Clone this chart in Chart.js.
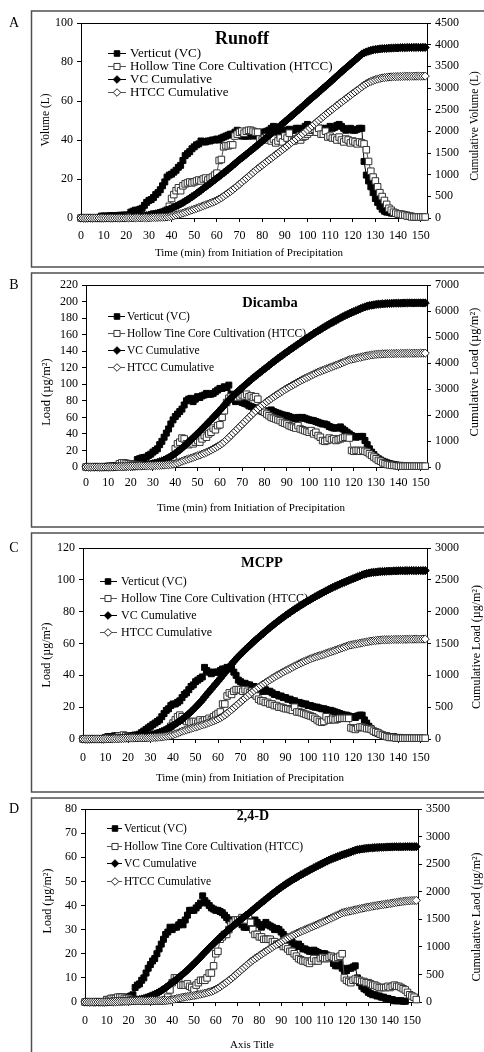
<!DOCTYPE html>
<html>
<head>
<meta charset="utf-8">
<title>Runoff and herbicide loads</title>
<script src="https://cdn.jsdelivr.net/npm/chart.js@4.4.1/dist/chart.umd.min.js"></script>
<style>
html, body { margin:0; padding:0; background:#fff; }
body { width:484px; height:1052px; position:relative; overflow:hidden; }
canvas { position:absolute; left:0; display:block; }
</style>
</head>
<body>
<canvas id="cA" width="484" height="270" style="top:0px"></canvas>
<canvas id="cB" width="484" height="262" style="top:270px"></canvas>
<canvas id="cC" width="484" height="263" style="top:532px"></canvas>
<canvas id="cD" width="484" height="257" style="top:795px"></canvas>
<script>
// ---------------- DATA ----------------
const SERIES_NAMES = ['Verticut (VC)', 'Hollow Tine Core Cultivation (HTCC)', 'VC Cumulative', 'HTCC Cumulative'];
const MINUTES = [0,1,2,3,4,5,6,7,8,9,10,11,12,13,14,15,16,17,18,19,20,21,22,23,24,25,26,27,28,29,30,31,32,33,34,35,36,37,38,39,40,41,42,43,44,45,46,47,48,49,50,51,52,53,54,55,56,57,58,59,60,61,62,63,64,65,66,67,68,69,70,71,72,73,74,75,76,77,78,79,80,81,82,83,84,85,86,87,88,89,90,91,92,93,94,95,96,97,98,99,100,101,102,103,104,105,106,107,108,109,110,111,112,113,114,115,116,117,118,119,120,121,122,123,124,125,126,127,128,129,130,131,132,133,134,135,136,137,138,139,140,141,142,143,144,145,146,147,148,149,150,151,152];
const X_TICKS = [0,10,20,30,40,50,60,70,80,90,100,110,120,130,140,150];

// A: Runoff
const A_TITLE = 'Runoff';
const A_LEFT_TICKS = [0,20,40,60,80,100];
const A_RIGHT_TICKS = [0,500,1000,1500,2000,2500,3000,3500,4000,4500];
const A_VC = [0,0,0,0,0,0,0,0,0,
 1,1,1,1,1.2,1.2,1.3,1.3,1.4,1.4,1.5,1.5,1.5,
 3,3.5,4,4,4.5,5,6.5,8,9,9.5,10.5,12,13,14.5,16.5,18.5,
 21,22,22.5,23.5,24.5,26,27,29.5,32,33,34,35.5,36.5,37.5,38,39.5,
 39,39,39.5,39.5,40,40,40.5,
 40,41,41.5,42,42.5,43,43,44,45,44,
 42,42,42,42,42.5,42,43,43.5,44,44,
 44,44.5,45,46,47,45,44,44,44.5,45,
 45,45.5,45,45,46,46,45.5,46,47,48,
 46,45,44.5,45,45.5,46,46,45.5,46,47,
 46,46.5,47.5,48,47,46,45,45.5,46,45,
 45,45.5,46,46,
 29,22,19,16,13,10,8,6,4.5,3.5,3,3,2.5,2.5,2.5,2,2,2,1.5,1.5,1,1,
 null,null,null,null,null,null];
const A_HTCC = [0,0,0,0,0,0,0,0,0,0,0,0,0,0,0,0,0,0,0,0,
 0.5,0.5,0.5,0.5,0.5,0.5,0.5,0.5,0.5,0.5,
 1,1.5,2,2,2,2.5,2.5,3,
 4,6,10,12,14,15.5,14,16.5,17.5,18,18.5,18,18.5,19,19.5,19,20,20.5,19.5,20.5,21,22,23,
 29.5,30,36.5,37,37,37.5,37.5,42,43,44,
 44.5,43.5,44.5,45,45,44.5,44,44,40.5,40,
 41,41.5,40,39.5,40.5,38.5,39.5,41,39,42,
 41,43.5,40,39.5,40.5,41,40,41.5,42,43,
 44,45,45.5,44,46,43,43,44.5,41.5,42,
 41,41,40,41.5,40,39,40.5,40,38.5,39.5,
 39,38,39,38.5,
 38,35,29,24,21,19,16,13,11,9,7,5,4,3,2.5,2,2,1.5,1.5,1,1,
 0.5,0.5,0.5,0.5,0.5,0.5,0.5];
const A_VC_CUM = [0,0,0,0,0,0,0,0,0,
 1,2,3,4,5,6,8,9,10,12,13,15,16,
 19,23,27,31,35,40,47,55,64,73,84,96,109,123,140,158,
 179,201,224,247,272,298,325,354,386,419,453,489,525,563,601,640,
 679,718,758,797,837,877,918,
 958,999,1040,1082,1125,1168,1211,1255,1300,1344,
 1386,1428,1470,1512,1554,1596,1639,1683,1727,1771,
 1815,1859,1904,1950,1997,2042,2086,2130,2175,2220,
 2265,2310,2355,2400,2446,2492,2538,2584,2631,2679,
 2725,2770,2814,2859,2905,2951,2997,3042,3088,3135,
 3181,3228,3275,3323,3370,3416,3461,3507,3553,3598,
 3643,3688,3734,3780,
 3809,3831,3850,3866,3879,3889,3897,3903,3908,3911,3914,3917,3920,3922,3925,3927,3929,3931,3932,3934,3935,3936,
 3936,3936,3936,3936,3936,3936];
const A_HTCC_CUM = [0,0,0,0,0,0,0,0,0,0,0,0,0,0,0,0,0,0,0,0,
 0.5,1,1.5,2,2.5,3,3.5,4,4.5,5,
 6,7.5,9.5,11.5,13.5,16,18.5,21.5,
 25.5,31.5,41.5,53.5,67.5,83,97,113.5,131,149,167.5,185.5,204,223,242.5,261.5,281.5,302,321.5,342,363,385,408,
 437,467,504,541,578,615,653,695,738,782,
 826,870,914,959,1004,1049,1093,1137,1177,1217,
 1258,1300,1340,1379,1420,1458,1498,1539,1578,1620,
 1661,1704,1744,1784,1824,1865,1905,1947,1989,2032,
 2076,2121,2166,2210,2256,2299,2342,2387,2428,2470,
 2511,2552,2592,2634,2674,2713,2753,2793,2832,2871,
 2910,2948,2987,3026,
 3064,3099,3128,3152,3173,3192,3208,3221,3232,3241,3248,3253,3257,3260,3262,3264,3266,3268,3269,3270,3271,
 3272,3272,3273,3273,3274,3274,3275];

// B: Dicamba
const B_TITLE = 'Dicamba';
const B_LEFT_TICKS = [0,20,40,60,80,100,120,140,160,180,200,220];
const B_RIGHT_TICKS = [0,1000,2000,3000,4000,5000,6000,7000];
const B_VC = [0,0,0,0,0,0,0,0,0,0,
 1,1,1.5,1.5,2,2,2.5,2.5,3,3,3,3.5,4,
 9,10,11,11.5,12,14,15.5,18,20,22,27,31,36,41,46,52,57,61,
 64,67,70,75,80,82,83,79,82,85,84,86,87,89,88,88,89,91,93,95,95,97,96,99,
 88,82,79,80,80,78,77,76,74,73,72,71,70,68,67,66,67,68,69,67,66,65,64,63,62.5,62,
 61,60,59,58.5,60,59,60,59,58,57,56.5,56,55,54,53,52,52,51,49,48,47,47,47.5,48.5,46,44,42,40,38,37,36,36.5,37,37,
 32,27,22,18,15,12,10,8.5,7,6,5,4,3.5,3,2.5,2,2,1.5,1.5,1,1,
 null,null,null,null,null,null,null];
const B_HTCC = [0,0,0,0,0,0,0,0,0,0,0.5,0.5,0.5,0.5,1,
 4,5,5,4.5,4,3.5,
 3,3,2.5,2.5,2,2,2,2,2.5,3,
 3,3.5,4,4.5,5,6,7,8,
 12,22,28,30,35,34,28,27,30,28,30,32,30,34,38,36,40,42,47,45,50,51,
 60,68,78,83,85,85,86,84,85,87,86,88,85,86,84,85,82,
 72,68,66,64,62,60,59,58,57,56,54,53,52,50,49,48,47,50,46,45,44,43,42,
 44,40,42,38,36,32,31,32,35,33,34,32,33,34,35,36,36,35,
 20,19,20,20,19,20,19,18,16,14,12,10,8,7,5,4,3,2.5,2,2,1.5,
 1,1,1,1,1,1,1,1,1,1,1,1,1];
const B_VC_CUM = [0,0,0,0,0,0,0,0,0,0,
 1,2,4,5,7,9,12,14,17,20,23,27,31,
 40,50,61,72,84,98,114,132,152,174,201,232,268,309,355,407,464,525,
 589,656,726,801,881,963,1046,1125,1207,1292,1376,1462,1549,1638,1726,1814,1903,1994,2087,2182,2277,2374,2470,2569,
 2657,2739,2818,2898,2978,3056,3133,3209,3283,3356,3428,3499,3569,3637,3704,3770,
 3837,3905,3974,4041,4107,4172,4236,4299,4361,4423,
 4484,4544,4603,4662,4722,4781,4841,4900,4958,5015,
 5071,5127,5182,5236,5289,5341,5393,5444,5493,5541,
 5588,5635,5683,5731,5777,5821,5863,5903,5941,5978,
 6014,6051,6088,6125,
 6157,6184,6206,6224,6239,6251,6261,6269,6276,6282,6287,6291,6295,6298,6300,6302,6304,6306,6307,6308,6309,
 6309,6309,6309,6309,6309,6309,6309];
const B_HTCC_CUM = [0,0,0,0,0,0,0,0,0,0,
 1,1,2,2,3,
 7,12,17,22,26,29,
 32,35,38,40,42,44,46,48,51,54,
 57,60,64,69,74,80,87,95,
 107,129,157,187,222,256,284,311,341,369,399,431,461,495,533,569,609,651,698,743,793,844,
 904,972,1050,1133,1218,1303,1389,1473,1558,1645,1731,1819,1904,1990,2074,2159,2241,
 2313,2381,2447,2511,2573,2633,2692,2750,2807,2863,2917,2970,3022,3072,3121,3169,3216,3266,3312,3357,3401,3444,3486,
 3530,3570,3612,3650,3686,3718,3749,3781,3816,3849,3883,3915,3948,3982,4017,4053,4089,4124,
 4144,4163,4183,4203,4222,4242,4261,4279,4295,4309,4321,4331,4339,4346,4351,4355,4358,4360,4362,4364,4366,
 4367,4368,4369,4370,4371,4372,4373,4374,4375,4376,4377,4378,4379];

// C: MCPP
const C_TITLE = 'MCPP';
const C_LEFT_TICKS = [0,20,40,60,80,100,120];
const C_RIGHT_TICKS = [0,500,1000,1500,2000,2500,3000];
const C_VC = [0,0,0,0,0,0,0,0,0,0,
 1,1.5,1.5,1.5,2,2,2,1.5,1.5,2,2,2,2,2.5,2.5,
 3,4,5,6,7,8,9,10,11,12,14,16,18,19,21,22,22,23,24,26,28,29,31,33,34,36,37,38,39,
 45,43,42,41,42,42,42,43,44,44,45,45,44,42,40,
 37,36,35,35,34,34,33,33,32,31,30,30,31,30,30,29,28,28,27,27,26,26,25,25,24,24,23,23,22.5,22,22,21,
 21,20.5,20,20,19.5,19,19,18.5,18,18,17.5,17,16.5,16,15.5,15,15,14.5,14,14,13.5,14.5,15,15,
 12,10,8,6.5,5,4,3.5,3,2.5,2,2,1.5,1.5,1.5,1,1,1,0.5,0.5,0.5,0.5,
 null,null,null,null,null,null,null];
const C_HTCC = [0,0,0,0,0,0,0,0,0,0,0.5,0.5,0.5,0.5,0.5,1,
 2,2,2.5,2,1.5,
 1,1,1,0.5,0.5,0.5,0.5,1,1,1,
 1.5,2,2.5,3,3.5,4,
 5,6,8,10,12,14,15,14,12,11,11,10,11,11,10,12,11,12,12,13,12,14,15,16,17,
 22,22,27,29,28,30,31,31,31,30,31,30,29,30,28,27,
 25,24,24,23,23,22,22,21,21,20,20,19.5,19,19,18.5,18,20,17,17,16.5,16,15.5,15,
 14.5,14,13,12,11,10.5,11,14,12,12,12.5,12,12.5,13,13,13,13,13,
 7,6.5,6,7,7.5,7.5,7,6.5,6.5,6,5,4.5,4,3,2.5,2,1.5,1,1,1,
 0.5,0.5,0.5,0.5,0.5,0.5,0.5,0.5,0.5,0.5,0.5,0.5,0.5,0.5];
const C_VC_CUM = [0,0,0,0,0,0,0,0,0,0,
 1,3,4,6,8,10,12,13,15,17,19,21,23,25,28,
 31,35,40,46,53,61,70,80,91,103,117,133,151,170,191,213,235,258,282,308,336,365,396,429,463,499,536,574,613,
 658,701,743,784,826,868,910,953,997,1041,1086,1131,1175,1217,1257,
 1294,1330,1365,1400,1434,1468,1501,1534,1566,1597,1627,1657,1688,1718,1748,1777,1805,1833,1860,1887,1913,1939,1964,1989,2013,2037,2060,2083,2105,2127,2149,2170,
 2191,2212,2232,2252,2271,2290,2309,2328,2346,2364,2381,2398,2415,2431,2446,2461,2476,2491,2505,2519,2532,2547,2562,2577,
 2589,2599,2607,2613,2618,2622,2626,2629,2631,2633,2635,2637,2638,2640,2641,2642,2643,2643,2644,2644,2645,
 2645,2645,2645,2645,2645,2645,2645];
const C_HTCC_CUM = [0,0,0,0,0,0,0,0,0,0,
 0.5,1,1.5,2,2.5,3.5,
 5.5,7.5,10,12,13.5,
 14.5,15.5,16.5,17,17.5,18,18.5,19.5,20.5,21.5,
 23,25,27.5,30.5,34,38,
 43,49,57,67,79,93,108,122,134,145,156,166,177,188,198,210,221,233,245,258,270,284,299,315,332,
 354,376,403,432,460,490,521,552,583,613,644,674,703,733,761,788,
 813,837,861,884,907,929,951,972,993,1013,1033,1053,1072,1091,1109,1127,1147,1164,1181,1198,1214,1229,1244,
 1259,1273,1286,1298,1309,1319,1330,1344,1356,1368,1381,1393,1405,1418,1431,1444,1457,1470,
 1477,1484,1490,1497,1504,1512,1519,1525,1532,1538,1543,1547,1551,1554,1557,1559,1560,1561,1562,1563,
 1564,1564,1565,1565,1566,1566,1567,1567,1568,1568,1569,1569,1570,1570];

// D: 2,4-D
const D_TITLE = '2,4-D';
const D_LEFT_TICKS = [0,10,20,30,40,50,60,70,80];
const D_RIGHT_TICKS = [0,500,1000,1500,2000,2500,3000,3500];
const D_VC = [0,0,0,0,0,0,0,0,0,0,
 1,1,1.5,1.5,1.5,1.5,2,2,2,2,2,2.5,
 3,6,7,7.5,9,10,12,14,15.5,17,18,20,22,24,26,28,29,31,
 30,31,31,32,33,32,34,36,38,38,38,39,40,41,44,42,41,40,39,38.5,38,38,37.5,37,36,
 35,34,33,34,34,33.5,33,32,31,31,31,32,33,34,33,32,31,32,33,32,31.5,31,30,30.5,30,29,
 28,27,26,25,25,24,23,24,23,22,22,21.5,21,21,21.5,21,20.5,20,20,20,19.5,19,18,16,15,15,16,14,13,13,14,14,14.5,15,
 10,8,6.5,5.5,5,4,3.5,3,3,2.5,2.5,2,2,1.5,1.5,1,1,0.5,0.5,0.5,0.5,0.3,0.3,
 null,null,null,null,null];
const D_HTCC = [0,0,0,0,0,0,0,0,0,0,
 1,1,1.5,1.5,1.5,2,2,2,1.5,1.5,1.5,
 1,1,1,0.5,0.5,0.5,0.5,0.5,0.5,0.5,0.5,0.5,0.5,0.5,0.5,0.5,
 1,2,5,8,10,10,9,7,7,7,7.5,6.5,6,5,7,8,9,9,9,10,12,12,
 15,20,21,26,27,28,28,30,32,33,34,34,34,35,34,34,36,33,
 30,28,28,27,27,26,26,26,26,25,25,24,24,24,23,23,22,21,21,20,19,18,17.5,17,
 17,16.5,16,17,18,17,17,18,18.5,18,18,18.5,19,18.5,18,18.5,19,20,
 10,9,8.5,8,9,9.5,9,9,8.5,8.5,8,8,7.5,7,7,6.5,6,6,6,6,6.5,6,6.5,7,6.5,6.5,6,5.5,5,4,3,2.5,2,1];
const D_VC_CUM = [0,0,0,0,0,0,0,0,0,0,
 1,2,4,5,7,8,10,12,14,16,18,21,
 24,30,37,44,53,63,75,89,105,122,140,160,182,206,232,260,289,320,
 350,381,412,444,477,509,543,579,617,655,693,732,772,813,857,899,940,980,1019,1057,1095,1133,1171,1208,1244,
 1279,1313,1346,1380,1414,1447,1480,1512,1543,1574,1605,1637,1670,1704,1737,1769,1800,1832,1865,1897,1929,1960,1990,2020,2050,2079,
 2107,2134,2160,2185,2210,2234,2257,2281,2304,2326,2348,2370,2391,2412,2433,2454,2475,2495,2515,2535,2554,2573,2591,2607,2622,2637,2653,2667,2680,2693,2707,2721,2736,2751,
 2761,2769,2775,2781,2786,2790,2793,2796,2799,2802,2804,2806,2808,2810,2811,2812,2813,2814,2814,2815,2815,2815,2816,
 2816,2816,2816,2816,2816];
const D_HTCC_CUM = [0,0,0,0,0,0,0,0,0,0,
 1,2,3.5,5,6.5,8.5,10.5,12.5,14,15.5,17,
 18,19,20,20.5,21,21.5,22,22.5,23,23.5,24,24.5,25,25.5,26,26.5,
 27.5,29.5,34.5,42.5,52.5,62.5,71.5,78.5,85.5,92.5,100,106.5,112.5,117.5,124.5,132.5,141.5,150.5,159.5,169.5,181.5,193.5,
 208.5,228.5,249.5,275.5,302.5,330.5,358.5,388.5,420.5,453.5,487.5,521.5,555.5,590.5,624.5,658.5,694.5,727.5,
 757.5,785.5,813.5,840.5,867.5,893.5,919.5,945.5,971.5,996.5,1021.5,1045.5,1069.5,1093.5,1116.5,1139.5,1161.5,1182.5,1203.5,1223.5,1242.5,1260.5,1278,1295,
 1312,1328.5,1344.5,1361.5,1379.5,1396.5,1413.5,1431.5,1450,1468,1486,1504.5,1523.5,1542,1560,1578.5,1597.5,1617.5,
 1627.5,1636.5,1645,1653,1662,1671.5,1680.5,1689.5,1698,1706.5,1714.5,1722.5,1730,1737,1744,1750.5,1756.5,1762.5,1768.5,1774.5,1781,1787,1793.5,1800.5,1807,1813.5,1819.5,1825,1830,1834,1837,1839.5,1841.5,1842.5];

// ---------------- LAYOUT (page pixel coordinates) ----------------
const FONT = "'Liberation Serif', 'Times New Roman', Times, serif";
const PANELS = [
  { canvas:'cA', top:0, height:270, letter:'A', letterPos:[14,23],
    box:[11,267], plot:{l:81,r:427,t:23,b:218}, xLab:17,
    title:[A_TITLE,242,39,18],
    legend:{rows:[53,66,79,92], x1:108, x2:126, mx:117, tx:130, size:13},
    yTitle:['Volume (L)',46,120], y2Title:['Cumulative Volume (L)',475,126],
    xTitle:['Time (min) from Initiation of Precipitation',249,253], xFont:11, yFont:11.5,
    left:A_LEFT_TICKS, right:A_RIGHT_TICKS, series:[A_VC,A_HTCC,A_VC_CUM,A_HTCC_CUM] },
  { canvas:'cB', top:270, height:262, letter:'B', letterPos:[14,285],
    box:[273,527], plot:{l:86,r:427,t:285,b:467}, xLab:15,
    title:[B_TITLE,270,303,14.5],
    legend:{rows:[316,333,350,367], x1:108, x2:125, mx:117, tx:127, size:11.5},
    yTitle:['Load (µg/m²)',47,392], y2Title:['Cumulative Load (µg/m²)',475,372],
    xTitle:['Time (min) from Initiation of Precipitation',251,508], xFont:11, yFont:12.5,
    left:B_LEFT_TICKS, right:B_RIGHT_TICKS, series:[B_VC,B_HTCC,B_VC_CUM,B_HTCC_CUM] },
  { canvas:'cC', top:532, height:263, letter:'C', letterPos:[14,548],
    box:[533,792], plot:{l:83,r:427,t:548,b:739}, xLab:18,
    title:[C_TITLE,262,563,14.5],
    legend:{rows:[581,598,615,632], x1:100, x2:117, mx:108, tx:121, size:12},
    yTitle:['Load (µg/m²)',47,655], y2Title:['Cumulative Load (µg/m²)',477,647],
    xTitle:['Time (min) from Initiation of Precipitation',250,778], xFont:11, yFont:12,
    left:C_LEFT_TICKS, right:C_RIGHT_TICKS, series:[C_VC,C_HTCC,C_VC_CUM,C_HTCC_CUM] },
  { canvas:'cD', top:795, height:257, letter:'D', letterPos:[14,809],
    box:[798,1100], plot:{l:85,r:418,t:809,b:1002}, xLab:18,
    title:[D_TITLE,253,816,14],
    legend:{rows:[828,846,863,881], x1:107, x2:122, mx:115, tx:124, size:11.5},
    yTitle:['Load (µg/m²)',48,901], y2Title:['Cumulaative Laod (µg/m²)',477,917],
    xTitle:['Axis Title',252,1045], xFont:11, yFont:12,
    left:D_LEFT_TICKS, right:D_RIGHT_TICKS, series:[D_VC,D_HTCC,D_VC_CUM,D_HTCC_CUM] }
];

const STYLES = [
  { pointStyle:'rect',    pointRadius:4.2, pointBackgroundColor:'#000', pointBorderColor:'#000', borderColor:'#000', yAxisID:'y',  order:4 },
  { pointStyle:'rect',    pointRadius:4.6, pointBackgroundColor:'#fff', pointBorderColor:'#333', borderColor:'#555', yAxisID:'y',  order:3 },
  { pointStyle:'rectRot', pointRadius:4.1, pointBackgroundColor:'#000', pointBorderColor:'#000', borderColor:'#000', yAxisID:'y2', order:2 },
  { pointStyle:'rectRot', pointRadius:4.1, pointBackgroundColor:'#fff', pointBorderColor:'#222', borderColor:'#333', yAxisID:'y2', order:1 }
];

Chart.defaults.font.family = FONT;
Chart.defaults.color = '#000';

function drawMarker(ctx, style, x, y, r, fill, stroke) {
  ctx.beginPath();
  if (style === 'rect') {
    const s = Math.SQRT1_2 * r;
    ctx.rect(x - s, y - s, 2 * s, 2 * s);
  } else {
    ctx.moveTo(x, y - r); ctx.lineTo(x + r, y); ctx.lineTo(x, y + r); ctx.lineTo(x - r, y); ctx.closePath();
  }
  ctx.fillStyle = fill; ctx.fill();
  ctx.strokeStyle = stroke; ctx.lineWidth = 1; ctx.stroke();
}
function vText(ctx, text, x, y) {
  ctx.save(); ctx.translate(x, y); ctx.rotate(-Math.PI / 2);
  ctx.textAlign = 'center'; ctx.textBaseline = 'middle';
  ctx.fillText(text, 0, 0); ctx.restore();
}

const decorPlugin = {
  id: 'decor',
  afterDraw(chart, args, o) {
    const P = o.panel; const T = P.top;
    const ctx = chart.ctx; const ca = chart.chartArea;
    ctx.save();
    // top edge of plot area
    ctx.strokeStyle = '#000'; ctx.lineWidth = 1;
    ctx.beginPath(); ctx.moveTo(ca.left, Math.round(ca.top) + 0.5); ctx.lineTo(ca.right, Math.round(ca.top) + 0.5); ctx.stroke();
    // panel frame
    ctx.strokeStyle = '#505050'; ctx.lineWidth = 1.5;
    ctx.beginPath();
    ctx.moveTo(600, P.box[0] - T); ctx.lineTo(31.5, P.box[0] - T);
    ctx.lineTo(31.5, P.box[1] - T); ctx.lineTo(600, P.box[1] - T);
    ctx.stroke();
    ctx.fillStyle = '#000';
    // panel letter
    ctx.font = '14px ' + FONT; ctx.textAlign = 'center'; ctx.textBaseline = 'middle';
    ctx.fillText(P.letter, P.letterPos[0], P.letterPos[1] - T);
    // chart title
    ctx.font = 'bold ' + P.title[3] + 'px ' + FONT;
    ctx.fillText(P.title[0], P.title[1], P.title[2] - T);
    // axis titles
    ctx.font = P.xFont + 'px ' + FONT;
    ctx.fillText(P.xTitle[0], P.xTitle[1], P.xTitle[2] - T);
    ctx.font = P.yFont + 'px ' + FONT;
    vText(ctx, P.yTitle[0], P.yTitle[1], P.yTitle[2] - T);
    vText(ctx, P.y2Title[0], P.y2Title[1], P.y2Title[2] - T);
    // legend
    const L = P.legend;
    chart.data.datasets.forEach((ds, i) => {
      const y = L.rows[i] - T;
      ctx.strokeStyle = (i % 2 === 1) ? '#555' : '#000'; ctx.lineWidth = 1;
      ctx.beginPath(); ctx.moveTo(L.x1, Math.round(y) + 0.5); ctx.lineTo(L.x2, Math.round(y) + 0.5); ctx.stroke();
      drawMarker(ctx, ds.pointStyle, L.mx, Math.round(y) + 0.5, ds.pointRadius - 0.3, ds.pointBackgroundColor, ds.pointBorderColor);
      ctx.fillStyle = '#000';
      ctx.font = L.size + 'px ' + FONT; ctx.textAlign = 'left'; ctx.textBaseline = 'middle';
      ctx.fillText(ds.label, L.tx, y + 1);
    });
    ctx.restore();
  }
};

function axisCommon(tickValues) {
  return {
    afterBuildTicks: s => { s.ticks = tickValues.map(v => ({ value: v })); },
    grid: { display: true, drawOnChartArea: false, drawTicks: true, tickLength: 4, color: '#000', lineWidth: 1 },
    border: { display: true, color: '#000', width: 1 },
    ticks: { color: '#000', font: { size: 12, family: FONT }, padding: 4, autoSkip: false, maxRotation: 0,
             callback: v => String(v) }
  };
}

PANELS.forEach(P => {
  const localB = P.plot.b - P.top;
  const xAxis = axisCommon(X_TICKS);
  xAxis.ticks.padding = P.xLab - 4 - 6.5;
  const yAxis = axisCommon(P.left);
  const y2Axis = axisCommon(P.right);
  new Chart(document.getElementById(P.canvas), {
    type: 'line',
    data: {
      labels: MINUTES,
      datasets: P.series.map((arr, i) => Object.assign({
        label: SERIES_NAMES[i], data: arr, borderWidth: 1, pointBorderWidth: 1,
        tension: 0, spanGaps: false, clip: false, pointHoverRadius: 4
      }, STYLES[i]))
    },
    options: {
      responsive: false, animation: false, devicePixelRatio: 1,
      layout: { padding: { top: P.plot.t - P.top, left: 0, right: 0, bottom: 0 } },
      plugins: { legend: { display: false }, tooltip: { enabled: false }, title: { display: false },
                 decor: { panel: P } },
      scales: {
        x: Object.assign(xAxis, { type: 'linear', min: 0, max: 152.8,
             afterFit: s => { s.height = P.height - localB; } }),
        y: Object.assign(yAxis, { type: 'linear', position: 'left', min: 0, max: P.left[P.left.length - 1],
             afterFit: s => { s.width = P.plot.l; } }),
        y2: Object.assign(y2Axis, { type: 'linear', position: 'right', min: 0, max: P.right[P.right.length - 1],
             afterFit: s => { s.width = 484 - P.plot.r; } })
      }
    },
    plugins: [decorPlugin]
  });
});
</script>
</body>
</html>
